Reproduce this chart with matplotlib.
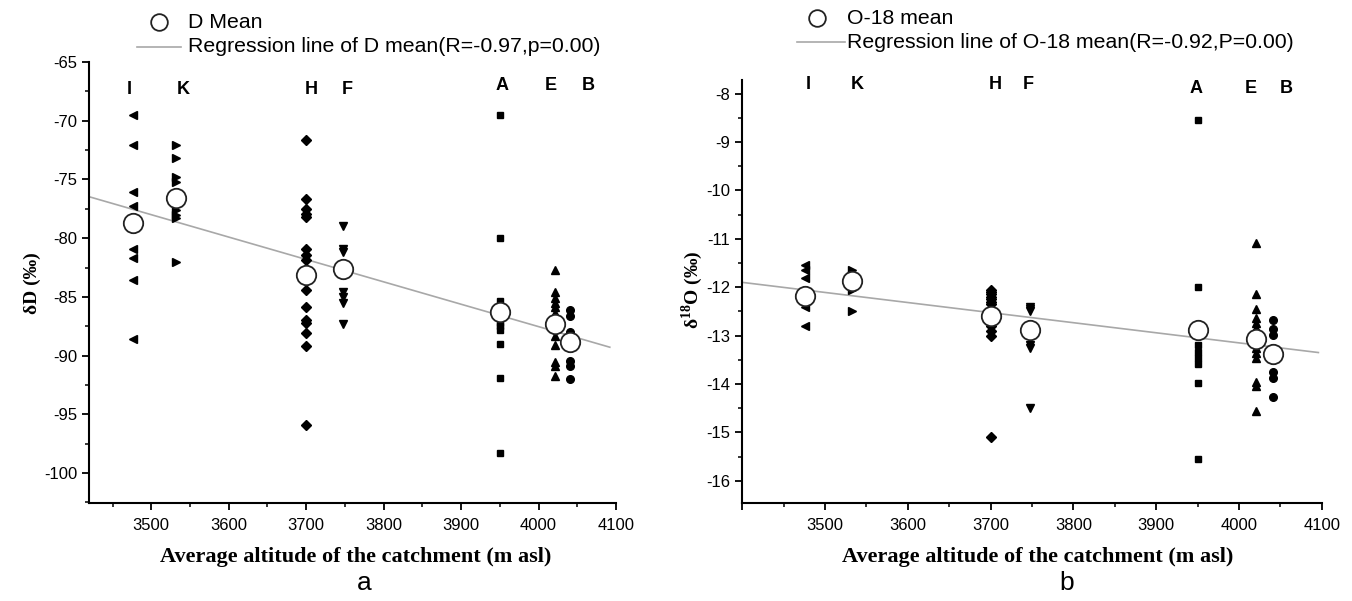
import numpy as np
import matplotlib
matplotlib.use("Agg")
import matplotlib.pyplot as plt
from matplotlib.lines import Line2D

plt.rcParams['axes.unicode_minus'] = False
plt.rcParams['font.family'] = ['Liberation Sans', 'DejaVu Sans']
plt.rcParams['mathtext.fontset'] = 'custom'
plt.rcParams['mathtext.rm'] = 'Liberation Serif'
plt.rcParams['mathtext.bf'] = 'Liberation Serif:bold'

# ---------------- data ----------------
sites = ['I', 'K', 'H', 'F', 'A', 'E', 'B']
altitude = [3476, 3532, 3700, 3747, 3950, 4021, 4041]
markers = ['<', '>', 'D', 'v', 's', '^', 'o']

d_I = [-69.5, -72.1, -76.1, -77.3, -80.9, -81.7, -83.6, -88.6]
d_K = [-72.1, -73.2, -74.8, -75.2, -77.6, -78.0, -78.3, -82.0]
d_H = [-71.65, -76.7, -77.5, -77.9, -78.2, -80.9, -81.4, -81.9, -83.6, -84.4,
       -85.9, -87.0, -87.2, -88.1, -89.2, -95.9]
d_F = [-79.0, -80.95, -81.2, -84.6, -85.0, -85.5, -87.3]
d_A = [-69.5, -80.0, -85.35, -87.2, -87.5, -87.8, -89.0, -91.9, -98.3]
d_E = [-82.7, -84.6, -85.1, -85.5, -85.9, -86.35, -86.8, -88.3, -89.1, -90.55,
       -90.9, -91.7]
d_B = [-86.1, -86.6, -88.0, -90.5, -90.85, -92.0]
d_mean = [-78.7, -76.6, -83.1, -82.6, -86.3, -87.35, -88.85]

o_I = [-11.55, -11.65, -11.8, -12.15, -12.4, -12.8]
o_K = [-11.65, -11.75, -11.9, -12.05, -12.5]
o_H = [-12.05, -12.1, -12.15, -12.2, -12.25, -12.3, -12.35, -12.45, -12.5,
       -12.6, -12.7, -12.8, -12.9, -13.0, -15.1]
o_F = [-12.4, -12.45, -12.5, -13.2, -13.25, -14.5]
o_A = [-8.54, -12.0, -13.19, -13.33, -13.46, -13.59, -13.97, -15.55]
o_E = [-11.09, -12.15, -12.45, -12.64, -12.74, -12.84, -12.95, -13.26, -13.36,
       -13.47, -13.95, -14.05, -14.55]
o_B = [-12.67, -12.86, -12.98, -13.76, -13.88, -14.26]
o_mean = [-12.18, -11.88, -12.59, -12.88, -12.88, -13.07, -13.37]

d_groups = [d_I, d_K, d_H, d_F, d_A, d_E, d_B]
o_groups = [o_I, o_K, o_H, o_F, o_A, o_E, o_B]

# site-letter label positions (x in altitude units, y in data units)
label_x_a = [3472, 3541, 3707, 3753, 3953, 4016, 4064]
label_y_a = [-67.3, -67.3, -67.3, -67.3, -67.0, -67.0, -67.0]
label_x_b = [3480, 3539, 3706, 3746, 3948, 4014, 4057]
label_y_b = [-7.82, -7.82, -7.82, -7.82, -7.9, -7.9, -7.9]

W, H = 1352, 601
fig = plt.figure(figsize=(W / 100, H / 100), dpi=100)


def fx(px):
    return px / W


def fy(py):
    return 1 - py / H


def style_axes(ax):
    for s in ['top', 'right']:
        ax.spines[s].set_visible(False)
    for s in ['left', 'bottom']:
        ax.spines[s].set_linewidth(1.5)
    ax.tick_params(which='major', direction='out', length=5, width=1.3,
                   labelsize=12)
    ax.tick_params(axis='x', which='major', pad=6)
    ax.tick_params(which='minor', direction='out', length=3, width=1.1)


def draw_panel(ax, groups, means, lab_x, lab_y, xlim, ylim, line_end):
    for g, alt, m in zip(groups, altitude, markers):
        ax.plot([alt] * len(g), g, linestyle='none', marker=m, color='black',
                markersize=5.5 if m not in ('D', 's') else 5, zorder=3)
    coef = np.polyfit(altitude, means, 1)
    xs = np.array([xlim[0], line_end])
    ax.plot(xs, np.polyval(coef, xs), color='#a8a8a8', lw=1.2, zorder=2)
    ax.plot(altitude, means, linestyle='none', marker='o', markersize=14,
            markerfacecolor='white', markeredgecolor='#222222',
            markeredgewidth=1.3, zorder=4)
    for s, x, y in zip(sites, lab_x, lab_y):
        ax.text(x, y, s, ha='center', va='center', fontsize=13,
                fontweight='bold', clip_on=False)
    ax.set_xlim(*xlim)
    ax.set_ylim(*ylim)
    style_axes(ax)


# ---------------- panel a ----------------
axa = fig.add_axes([fx(89.3), fy(503), fx(616) - fx(89.3), fy(62) - fy(503)])
draw_panel(axa, d_groups, d_mean, label_x_a, label_y_a, (3420, 4100),
           (-102.55, -65), 4092)
axa.set_xticks(np.arange(3500, 4101, 100))
axa.set_xticks(np.arange(3450, 4101, 50), minor=True)
axa.set_yticks(np.arange(-100, -64, 5))
axa.set_yticks(np.arange(-102.5, -64, 2.5), minor=True)
axa.set_yticklabels([str(v) for v in np.arange(-100, -64, 5)])

# ---------------- panel b ----------------
axb = fig.add_axes([fx(742.3), fy(502.7), fx(1321.7) - fx(742.3),
                    fy(80) - fy(502.7)])
draw_panel(axb, o_groups, o_mean, label_x_b, label_y_b, (3400, 4100),
           (-16.45, -7.72), 4096)
axb.set_xticks(np.arange(3400, 4101, 100))
axb.set_xticklabels([''] + [str(v) for v in range(3500, 4101, 100)])
axb.set_xticks(np.arange(3450, 4101, 50), minor=True)
axb.set_yticks(np.arange(-16, -7.9, 1))
axb.set_yticklabels([str(int(v)) for v in np.arange(-16, -7.9, 1)])
axb.set_yticks(np.arange(-16, -7.6, 0.5), minor=True)

# ---------------- axis labels ----------------
serif = 'Liberation Serif'
fig.text(fx(356), fy(557), 'Average altitude of the catchment (m asl)',
         ha='center', va='center', fontsize=16, fontweight='bold', family=serif)
fig.text(fx(1038), fy(557), 'Average altitude of the catchment (m asl)',
         ha='center', va='center', fontsize=16, fontweight='bold', family=serif)
fig.text(fx(32), fy(283), 'δD (‰)', rotation=90, ha='center', va='center',
         fontsize=14, fontweight='bold', family=serif)
fig.text(fx(692), fy(290), r'δ$^{\mathbf{18}}$O (‰)', rotation=90,
         ha='center', va='center', fontsize=14, fontweight='bold', family=serif)
fig.text(fx(364), fy(583), 'a', ha='center', va='center', fontsize=19)
fig.text(fx(1067), fy(583), 'b', ha='center', va='center', fontsize=19)

# ---------------- legends ----------------
def legend(cx, cy, t1, ly, lx0, lx1, t2, tx):
    fig.add_artist(Line2D([fx(cx)], [fy(cy)], marker='o', markersize=12,
                          markerfacecolor='white', markeredgecolor='#222222',
                          markeredgewidth=1.3, linestyle='none',
                          transform=fig.transFigure))
    fig.text(fx(tx), fy(cy), t1, ha='left', va='center', fontsize=15.3)
    fig.add_artist(Line2D([fx(lx0), fx(lx1)], [fy(ly), fy(ly)],
                          color='#a8a8a8', lw=1.2, transform=fig.transFigure))
    fig.text(fx(tx), fy(ly), t2, ha='left', va='center', fontsize=15.3)


legend(159, 22, 'D Mean', 47, 137, 181,
       'Regression line of D mean(R=-0.97,p=0.00)', 188)
legend(817, 18, 'O-18 mean', 42, 797, 845,
       'Regression line of O-18 mean(R=-0.92,P=0.00)', 847)

fig.savefig('out.png', dpi=100)
